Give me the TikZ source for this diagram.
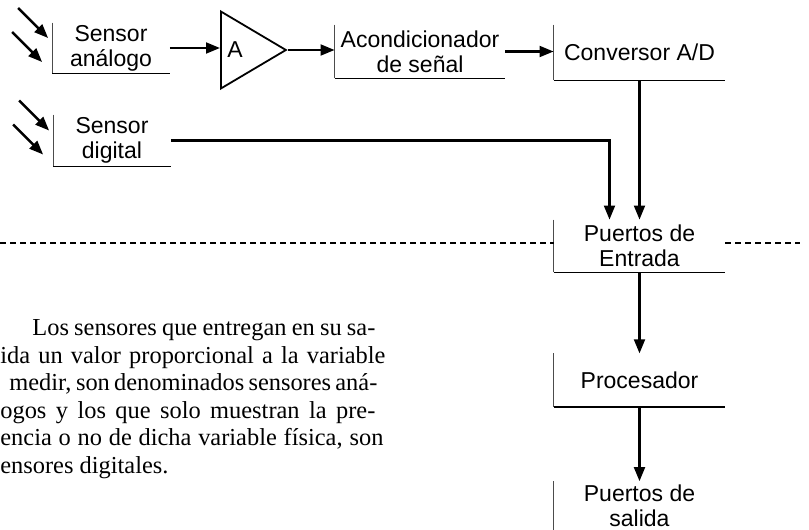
\documentclass[tikz,border=0pt]{standalone}
\usepackage{fontspec}
\setmainfont{Liberation Serif}
\setsansfont{Liberation Sans}
\usetikzlibrary{arrows.meta, positioning, shapes.geometric}

\newcommand{\jline}[2]{\makebox[#1][s]{#2}}

\begin{document}
\begin{tikzpicture}[x=0.5pt, y=-0.5pt,
    boxfont/.style={font=\sffamily\fontsize{11.5}{12.5}\selectfont},
    blk/.style={boxfont, align=center, inner sep=0pt},
    wide/.style={blk, minimum width=85.5pt},
    sens/.style={blk, minimum width=58.5pt, minimum height=25pt},
    amp/.style={draw, isosceles triangle, isosceles triangle stretches, minimum width=38.5pt, minimum height=32.5pt, inner sep=0pt, line width=0.9pt},
    conn/.style={-{Triangle[length=7pt, width=5.4pt]}, line width=1.2pt},
    sep/.style={dash pattern=on 3pt off 2pt, line width=0.8pt},
    txt/.style={font=\fontsize{12.2}{13.75}\selectfont, inner sep=0pt, anchor=base west}]

\useasboundingbox (0,0) rectangle (809,530);

% Top row: sensor, amplifier, conditioner, A/D
\node[sens] (sensor-an) at (111,48) {Sensor\\análogo};
\node[amp, anchor=lower side, label={[boxfont, anchor=west, inner sep=0pt, xshift=3.5pt]west:A}] (amp) at (220,50) {};
\node[wide, minimum width=85pt, minimum height=26.5pt] (acond) at (420,51.5) {Acondicionador\\de señal};
\node[wide, minimum height=27.5pt] (adc) at (639.5,52.5) {Conversor A/D};

% Digital sensor below
\node[sens, minimum height=25.5pt] (sensor-dig) at (112,140.5) {Sensor\\digital};

% Right column
\node[wide, minimum height=26pt] (in-ports) at (639.5,246) {Puertos de\\Entrada};
\node[wide, minimum height=26.5pt, below=40.5pt of in-ports] (cpu) {Procesador};
\node[wide, minimum height=24pt, below=37pt of cpu] (out-ports) {Puertos de\\salida};

% Box frames: thin left side, bottom line
\foreach \b in {sensor-an, acond, adc, sensor-dig, in-ports, cpu} {
  \draw[line width=0.4pt, black!70] (\b.north west) -- (\b.south west);
  \draw[line width=0.8pt] (\b.south west) -- (\b.south east);
}
% last box runs off the bottom edge
\draw[line width=0.4pt, black!70] (out-ports.north west) -- ([yshift=-2pt]out-ports.south west);

% Incoming rays on the sensors
\foreach \s in {sensor-an, sensor-dig} {
  \draw[conn] ([shift={(-34,-40)}]\s.west) -- ([shift={(-4,-10)}]\s.west);
  \draw[conn] ([shift={(-40,-16)}]\s.west) -- ([shift={(-10,14)}]\s.west);
}

% Signal chain
\draw[conn] (sensor-an.east) -- (sensor-an.east -| amp.lower side);
\draw[conn] (amp.apex) -- (amp.apex -| acond.west);
\draw[conn] (acond.east) -- (acond.east -| adc.west);
\draw[conn] (adc) -- (in-ports);
\draw[conn] (sensor-dig.east) -| ([xshift=-15pt]in-ports.north);
\draw[conn] (in-ports) -- (cpu);
\draw[conn] (cpu) -- (out-ports);

% Dashed separator
\coordinate (sep-l) at (0,243);
\coordinate (sep-r) at (800,243);
\draw[sep] (sep-l) -- (sep-l -| in-ports.west);
\draw[sep] (in-ports.east |- sep-l) -- (sep-r);

% Paragraph (cut at the left edge)
\node[txt] (line1) at (32,335.5) {\jline{171.5pt}{Los sensores que entregan en su sa-}};
\node[txt] (line2) at (0,363) {\jline{192.5pt}{ida un valor proporcional a la variable}};
\node[txt] (line3) at (9,390.5) {\jline{184pt}{medir, son denominados sensores aná-}};
\node[txt] (line4) at (0,418) {\jline{187.5pt}{ogos y los que solo muestran la pre-}};
\node[txt] (line5) at (0,445.5) {\jline{191.5pt}{encia o no de dicha variable física, son}};
\node[txt] (line6) at (0,473) {ensores digitales.};

\end{tikzpicture}
\end{document}
